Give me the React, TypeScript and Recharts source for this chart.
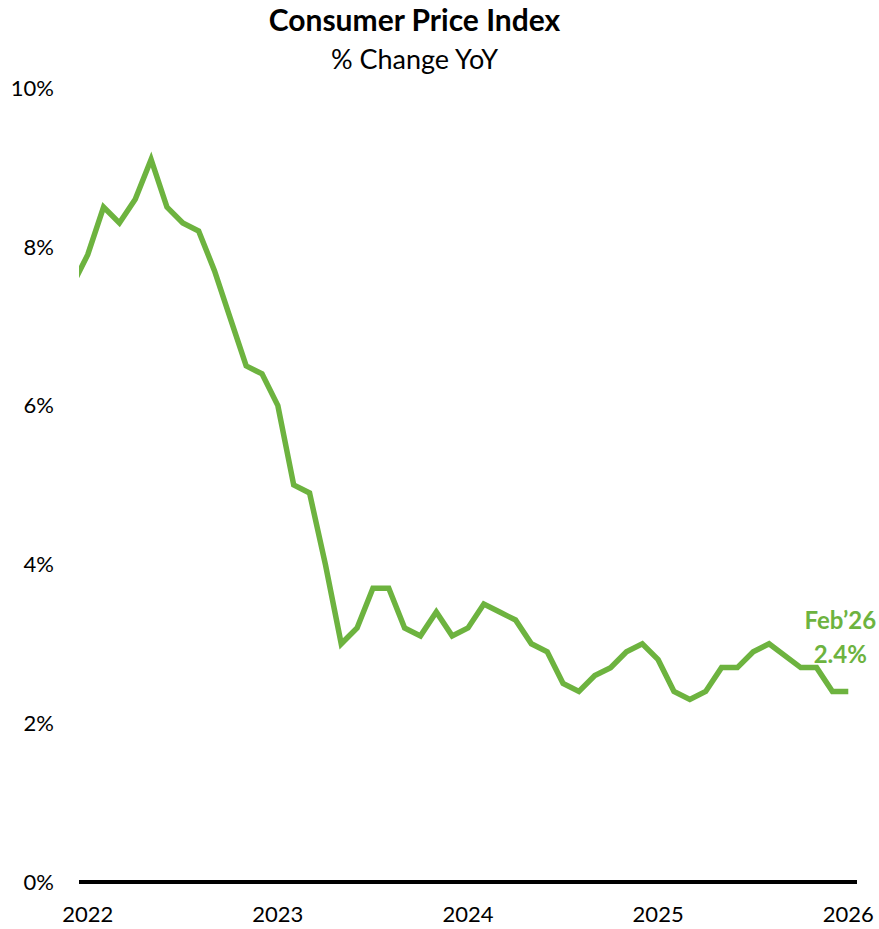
import React from 'react';
import { LineChart, Line, XAxis, YAxis } from 'recharts';

const months = [
  "Jan'22", "Feb'22", "Mar'22", "Apr'22", "May'22", "Jun'22", "Jul'22", "Aug'22", "Sep'22", "Oct'22", "Nov'22", "Dec'22",
  "Jan'23", "Feb'23", "Mar'23", "Apr'23", "May'23", "Jun'23", "Jul'23", "Aug'23", "Sep'23", "Oct'23", "Nov'23", "Dec'23",
  "Jan'24", "Feb'24", "Mar'24", "Apr'24", "May'24", "Jun'24", "Jul'24", "Aug'24", "Sep'24", "Oct'24", "Nov'24", "Dec'24",
  "Jan'25", "Feb'25", "Mar'25", "Apr'25", "May'25", "Jun'25", "Jul'25", "Aug'25", "Sep'25", "Oct'25", "Nov'25", "Dec'25",
  "Jan'26", "Feb'26",
];

// CPI % change year over year (Oct'25 not published)
const cpiYoY: (number | null)[] = [
  7.5, 7.9, 8.5, 8.3, 8.6, 9.1, 8.5, 8.3, 8.2, 7.7, 7.1, 6.5,
  6.4, 6.0, 5.0, 4.9, 4.0, 3.0, 3.2, 3.7, 3.7, 3.2, 3.1, 3.4,
  3.1, 3.2, 3.5, 3.4, 3.3, 3.0, 2.9, 2.5, 2.4, 2.6, 2.7, 2.9,
  3.0, 2.8, 2.4, 2.3, 2.4, 2.7, 2.7, 2.9, 3.0, null, 2.7, 2.7,
  2.4, 2.4,
];

const yearTicks = [1, 13, 25, 37, 49];
const yearLabels = ['2022', '2023', '2024', '2025', '2026'];
const yTicks = [0, 2, 4, 6, 8, 10];

const data = months.map((m, i) => ({ t: i, month: m, cpi: cpiYoY[i] }));

const GREEN = '#6db33f';
const FONT = "Lato, 'Open Sans', sans-serif";

const EndLabel = (props: any) => {
  const { x, y, index } = props;
  if (index !== data.length - 1) return null;
  return (
    <g>
      <text x={x - 8} y={y - 62} textAnchor="middle" fill={GREEN} fontSize={24} fontWeight={700} fontFamily={FONT}>
        {'Feb\u201926'}
      </text>
      <text x={x - 8} y={y - 28} textAnchor="middle" fill={GREEN} fontSize={24} fontWeight={700} fontFamily={FONT}>
        {data[index].cpi?.toFixed(1)}%
      </text>
    </g>
  );
};

export default function App() {
  return (
    <div style={{ position: 'absolute', left: 0, top: 0, width: 879, height: 929, background: '#fff', fontFamily: FONT }}>
      <div style={{ position: 'absolute', left: 0, width: 829, top: 0, textAlign: 'center', fontSize: 30, fontWeight: 700, color: '#000', lineHeight: '38px' }}>
        Consumer Price Index
      </div>
      <div style={{ position: 'absolute', left: 0, width: 829, top: 42, textAlign: 'center', fontSize: 27, color: '#000', lineHeight: '34px' }}>
        % Change YoY
      </div>
      <LineChart width={879} height={929} data={data} margin={{ top: 88, right: 22, bottom: 0, left: 8 }}>
        <XAxis
          dataKey="t"
          type="number"
          domain={[0.45, 49.55]}
          allowDataOverflow
          ticks={yearTicks}
          tickFormatter={(v: number) => yearLabels[yearTicks.indexOf(v)] ?? ''}
          axisLine={{ stroke: '#000', strokeWidth: 4 }}
          tickLine={false}
          tickSize={0}
          tickMargin={24}
          tick={{ fill: '#000', fontSize: 22, fontFamily: FONT }}
          height={47}
        />
        <YAxis
          domain={[0, 10]}
          ticks={yTicks}
          allowDataOverflow
          tickFormatter={(v: number) => `${v}%`}
          axisLine={false}
          tickLine={false}
          tickSize={0}
          tickMargin={25}
          width={71}
          tick={{ fill: '#000', fontSize: 22, fontFamily: FONT }}
        />
        <Line
          type="linear"
          dataKey="cpi"
          stroke={GREEN}
          strokeWidth={5.5}
          dot={false}
          connectNulls
          isAnimationActive={false}
          label={<EndLabel />}
        />
      </LineChart>
    </div>
  );
}
